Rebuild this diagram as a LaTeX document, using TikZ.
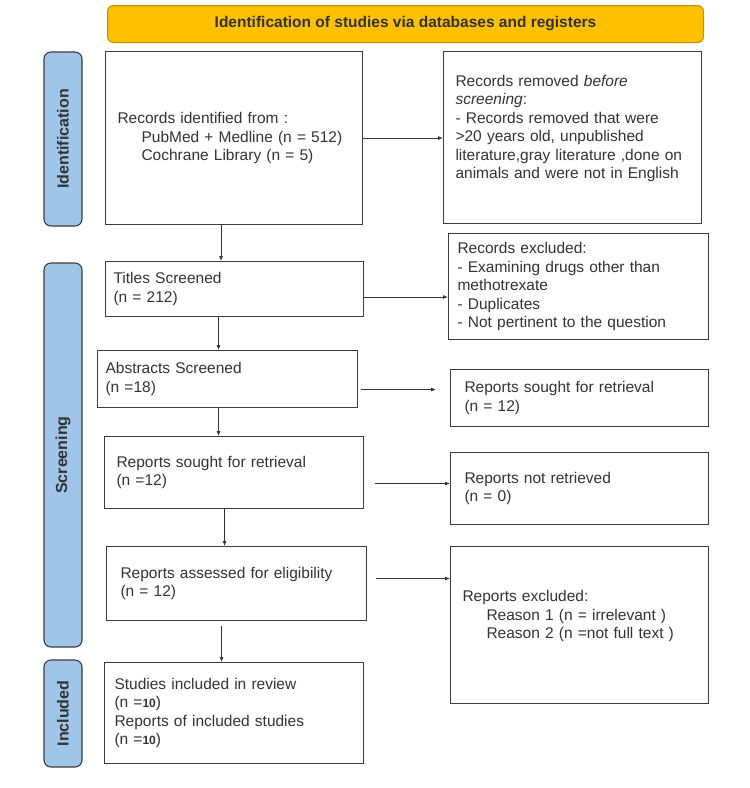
\documentclass[tikz,border=0pt]{standalone}
\usepackage{fontspec}
\setmainfont{Liberation Sans}
\usetikzlibrary{arrows.meta}

\definecolor{bandgold}{HTML}{FFC000}
\definecolor{bandgoldedge}{HTML}{C09000}
\definecolor{bandblue}{HTML}{9FC5E8}
\definecolor{edgegray}{HTML}{3C3C3C}
\definecolor{textgray}{HTML}{333333}

\newcommand{\ind}{\hspace*{24pt}}
\newcommand{\tens}{{\fontsize{12}{12}\selectfont\bfseries 10}}
% empty last line, lifts the text a little in the tall boxes
\newcommand{\lift}{\\[-3pt]\strut}

\begin{document}
\begin{tikzpicture}[x=1pt, y=-1pt,
    box/.style={draw=edgegray, line width=1.1pt, anchor=north west, inner sep=0pt,
                align=left, text=textgray, font=\fontsize{15.5}{18.5}\selectfont},
    phase/.style={draw=edgegray, fill=bandblue, line width=1.1pt, rounded corners=7pt,
                  rotate=90, minimum height=38pt, inner sep=0pt, text=textgray,
                  font=\fontsize{16}{16}\selectfont\bfseries},
    flow/.style={-{Latex[length=5pt,width=4pt]}, line width=0.8pt, draw=textgray}
  ]
  \useasboundingbox (0,0) rectangle (750,788);

  % header
  \node[draw=bandgoldedge, fill=bandgold, rounded corners=6pt, line width=1pt,
        anchor=north west, minimum width=596pt, minimum height=37pt, inner sep=0pt,
        text=textgray, font=\fontsize{15.5}{15.5}\selectfont\bfseries] (head) at (107,5)
        {Identification of studies via databases and registers};

  % phases
  \node[phase, minimum width=174pt] (idphase) at (63,139) {Identification};
  \node[phase, minimum width=384pt] (scphase) at (63,455) {Screening};
  \node[phase, minimum width=107pt] (inphase) at (63,713.5) {Included};

  % left column
  \node[box, minimum width=257pt, minimum height=173pt, text width=233pt] (ident) at (105,51)
    {Records identified from :\\ \ind PubMed + Medline (n = 512)\\ \ind Cochrane Library (n = 5)};
  \node[box, minimum width=258pt, minimum height=55pt, text width=242pt] (titles) at (105,261)
    {Titles Screened\\(n = 212)};
  \node[box, minimum width=260pt, minimum height=57pt, text width=244pt] (abstracts) at (97,350)
    {Abstracts Screened\\(n =18)};
  \node[box, minimum width=259pt, minimum height=72pt, text width=235pt] (sought) at (104,436)
    {Reports sought for retrieval\\(n =12)};
  \node[box, minimum width=260pt, minimum height=74pt, text width=232pt] (assessed) at (106,546)
    {Reports assessed for eligibility\\(n = 12)};
  \node[box, minimum width=259pt, minimum height=101pt, text width=239pt] (studies) at (104,662)
    {Studies included in review\\(n =\tens)\\Reports of included studies\\(n =\tens)};

  % right column
  \node[box, minimum width=258pt, minimum height=172pt, text width=234pt] (removed) at (443,51)
    {Records removed \textit{before}\\\textit{screening}:\\- Records removed that were\\>20 years old, unpublished\\literature,gray literature ,done on\\animals and were not in English\lift};
  \node[box, minimum width=260pt, minimum height=106pt, text width=242pt] (excluded) at (448,233)
    {Records excluded:\\- Examining drugs other than\\methotrexate\\- Duplicates\\- Not pertinent to the question};
  \node[box, minimum width=258pt, minimum height=57pt, text width=230pt] (retrieval) at (450,369)
    {Reports sought for retrieval\\(n = 12)};
  \node[box, minimum width=258pt, minimum height=72pt, text width=230pt] (notretr) at (450,452)
    {Reports not retrieved\\(n = 0)};
  \node[box, minimum width=258pt, minimum height=157pt, text width=234pt] (repexcl) at (450,546)
    {Reports excluded:\\ \ind Reason 1 (n = irrelevant )\\ \ind Reason 2 (n =not full text )\lift};

  % down the left column
  \draw[flow] ([xshift=-13pt]ident.south) -- ([xshift=-13pt]ident.south |- titles.north);
  \draw[flow] ([xshift=-16pt]titles.south) -- ([xshift=-16pt]titles.south |- abstracts.north);
  \draw[flow] ([xshift=-9pt]abstracts.south) -- ([xshift=-9pt]abstracts.south |- sought.north);
  \draw[flow] ([xshift=-9.5pt]sought.south) -- ([xshift=-9.5pt]sought.south |- assessed.north);
  \draw[flow, shorten <=5pt] ([xshift=-15pt]assessed.south) -- ([xshift=-15pt]assessed.south |- studies.north);

  % across to the right column
  \draw[flow] (ident.east) -- (ident.east -| removed.west);
  \draw[flow] ([yshift=-8pt]titles.east) -- ([yshift=-8pt]titles.east -| excluded.west);
  \draw[flow, shorten <=3pt, shorten >=14pt] ([yshift=-10.5pt]abstracts.east) -- ([yshift=-10.5pt]abstracts.east -| retrieval.west);
  \draw[flow, shorten <=11pt] ([yshift=-11pt]sought.east) -- ([yshift=-11pt]sought.east -| notretr.west);
  \draw[flow, shorten <=9pt] ([yshift=5pt]assessed.east) -- ([yshift=5pt]assessed.east -| repexcl.west);
\end{tikzpicture}
\end{document}
